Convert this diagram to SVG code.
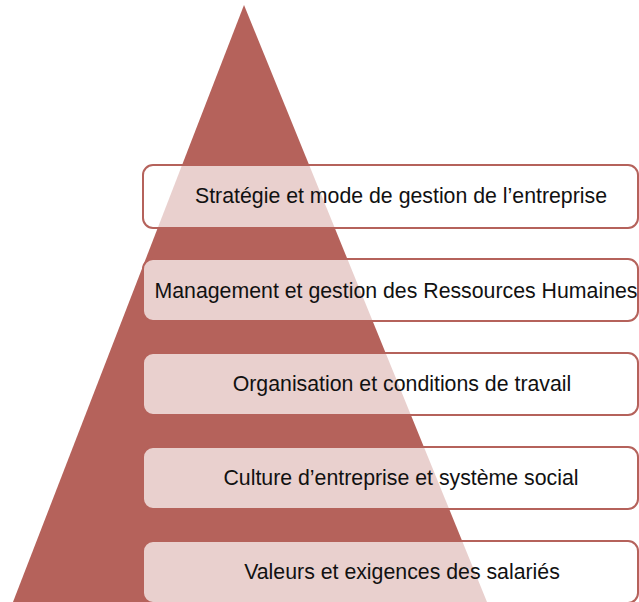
<svg xmlns="http://www.w3.org/2000/svg" width="639" height="602" viewBox="0 0 639 602">
<style>
.box{fill:#ffffff;fill-opacity:0.7;stroke:#B5625B;stroke-width:2}
.t{font-family:"Liberation Sans",Arial,sans-serif;font-size:21.3px;fill:#111;text-anchor:middle}
</style>
<rect width="639" height="602" fill="#ffffff"/>
<g id="pyramid"><polygon points="244,5 13,602 487,602" fill="#B5625B"/></g>
<g id="connectors"></g>
<g id="n1"><rect class="box" x="143" y="165" width="495" height="63" rx="10"/><text class="t" x="401" y="203">Stratégie et mode de gestion de l’entreprise</text></g>
<g id="n2"><rect class="box" x="143" y="259" width="495" height="62" rx="10"/><text class="t" x="396" y="298">Management et gestion des Ressources Humaines</text></g>
<g id="n3"><rect class="box" x="143" y="353" width="495" height="62" rx="10"/><text class="t" x="402" y="391">Organisation et conditions de travail</text></g>
<g id="n4"><rect class="box" x="143" y="447" width="495" height="62" rx="10"/><text class="t" x="401" y="485">Culture d’entreprise et système social</text></g>
<g id="n5"><rect class="box" x="143" y="541" width="495" height="62" rx="10"/><text class="t" x="402" y="579">Valeurs et exigences des salariés</text></g>
</svg>
